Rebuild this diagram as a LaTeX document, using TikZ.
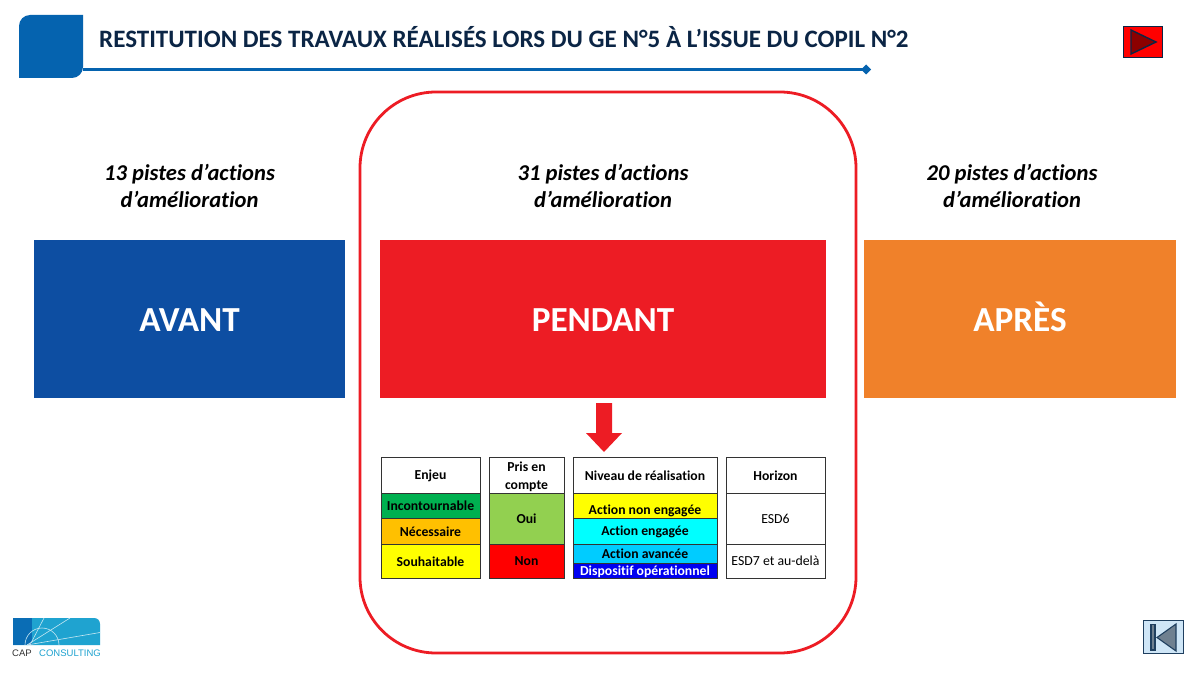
\documentclass[tikz,border=0pt]{standalone}
\usepackage{fontspec}
\setmainfont[Ligatures=NoCommon]{Carlito}
\newfontfamily\logofont{Liberation Sans}
\definecolor{capblue}{HTML}{0563AF}
\definecolor{titleink}{HTML}{0B2545}
\definecolor{avantblue}{HTML}{0D4EA2}
\definecolor{pendantred}{HTML}{ED1C24}
\definecolor{apresorange}{HTML}{F0812A}
\definecolor{gridink}{HTML}{333333}
\definecolor{enjeugreen}{HTML}{00B050}
\definecolor{enjeuamber}{HTML}{FFC000}
\definecolor{ouigreen}{HTML}{92D050}
\definecolor{pureyellow}{HTML}{FFFF00}
\definecolor{purecyan}{HTML}{00FFFF}
\definecolor{purered}{HTML}{FF0000}
\definecolor{skycyan}{HTML}{00CCFF}
\definecolor{deepblue}{HTML}{0000F0}
\definecolor{backfill}{HTML}{CFE6F7}
\definecolor{backink}{HTML}{1F3F5F}
\definecolor{backgrey}{HTML}{6F8090}
\definecolor{logolight}{HTML}{1FA3D0}
\definecolor{logodark}{HTML}{0A6DB5}
\tikzset{
  cell/.style={draw=gridink,line width=0.9pt},
  ctext/.style={inner sep=0pt,align=center,font=\fontsize{13.7}{17.5}\selectfont\bfseries,text=black},
  plain/.style={inner sep=0pt,align=center,font=\fontsize{13.8}{16}\selectfont,text=black},
  heading/.style={inner sep=0pt,align=center,font=\fontsize{22.6}{27}\selectfont\bfseries\itshape,text=black},
  bigword/.style={inner sep=0pt,anchor=base,font=\fontsize{35.2}{40}\selectfont\bfseries,text=white},
}
\begin{document}
\begin{tikzpicture}[x=1pt,y=-1pt]
\useasboundingbox[fill=white] (0,0) rectangle (1200,674);
% header
\fill[capblue] (30,15) -- (83,15) -- (83,67) .. controls (83,73) and (78,78) .. (72,78) -- (19,78) -- (19,26) .. controls (19,20) and (24,15) .. (30,15) -- cycle;
\coordinate (ruleA) at (83,69.5);
\coordinate (ruleB) at (866,69.5);
\draw[capblue,line width=3.6pt] (ruleA) -- (ruleB);
\fill[capblue] (866,64.5) -- (871,69.5) -- (866,74.5) -- (861,69.5) -- cycle;
\node[anchor=west,inner sep=0pt,text=titleink,font=\fontsize{25.05}{28}\selectfont\bfseries] (title) at (99,37) {RESTITUTION DES TRAVAUX RÉALISÉS LORS DU GE N°5 À L’ISSUE DU COPIL N°2};
% next button
\draw[fill=purered,draw=titleink,line width=1.6pt] (1123.5,26.5) rectangle (1162.5,57.5);
\draw[fill=red!55!black,draw=titleink,line width=1.4pt,line join=miter] (1131,30) -- (1156,42) -- (1131,54) -- cycle;
% frame
\draw[pendantred,line width=2.8pt,rounded corners=76pt] (360,92) rectangle (856,653);
% headings
\node[heading] (h1) at (189.5,185.5) {13 pistes d’actions\\d’amélioration};
\node[heading] (h2) at (603,185.5) {31 pistes d’actions\\d’amélioration};
\node[heading] (h3) at (1012,185.5) {20 pistes d’actions\\d’amélioration};
% big boxes
\fill[avantblue] (34,240) rectangle (345,398);
\node[bigword] (avant) at (189.5,331) {AVANT};
\fill[pendantred] (380,240) rectangle (826,398);
\node[bigword] (pendant) at (603,331) {PENDANT};
\fill[apresorange] (864,240) rectangle (1176,398);
\node[bigword] (apres) at (1020,331) {APRÈS};
% arrow
\fill[pendantred] (596,403) -- (612,403) -- (612,433) -- (622,433) -- (604,452) -- (586,433) -- (596,433) -- cycle;
% Enjeu
\draw[cell,fill=white] (381,457.5) rectangle (480,493.5) node[midway,ctext] (e0) {Enjeu};
\draw[cell,fill=enjeugreen] (381,493.5) rectangle (480,518.5) node[midway,ctext] (e1) {Incontournable};
\draw[cell,fill=enjeuamber] (381,518.5) rectangle (480,544.5) node[midway,ctext] (e2) {Nécessaire};
\draw[cell,fill=pureyellow] (381,544.5) rectangle (480,578) node[midway,ctext] (e3) {Souhaitable};
% Pris en compte
\draw[cell,fill=white] (489,457.5) rectangle (564,493.5) node[midway,ctext,yshift=-1.5pt] (p0) {Pris en\\compte};
\draw[cell,fill=ouigreen] (489,493.5) rectangle (564,544.5) node[midway,ctext] (p1) {Oui};
\draw[cell,fill=purered] (489,544.5) rectangle (564,578) node[midway,ctext] (p2) {Non};
% Niveau
\draw[cell,fill=white] (573,457.5) rectangle (717,493.5) node[midway,ctext] (n0) {Niveau de réalisation};
\draw[cell,fill=pureyellow] (573,493.5) rectangle (717,518.5);
\node[ctext] (n1) at (645,510.5) {Action non engagée};
\draw[cell,fill=purecyan] (573,518.5) rectangle (717,544.5) node[midway,ctext,yshift=-0.5pt] (n2) {Action engagée};
\draw[cell,fill=skycyan] (573,544.5) rectangle (717,563) node[midway,ctext] (n3) {Action avancée};
\draw[cell,fill=deepblue] (573,563) rectangle (717,578) node[midway,ctext,text=white,yshift=-1.5pt] (n4) {Dispositif opérationnel};
% Horizon
\draw[cell,fill=white] (726,457.5) rectangle (825,493.5) node[midway,ctext] (o0) {Horizon};
\draw[cell,fill=white] (726,493.5) rectangle (825,544.5) node[midway,plain] (o1) {ESD6};
\draw[cell,fill=white] (726,544.5) rectangle (825,578) node[midway,plain] (o2) {ESD7 et au-delà};
% logo
\fill[logolight] (13,618) -- (94,618) .. controls (97.5,618) and (100,620.5) .. (100,624) -- (100,645) -- (13,645) -- cycle;
\fill[logodark] (13,618) rectangle (32,645);
\begin{scope}
\clip (13,618) rectangle (100,645);
\draw[white!75!logolight,line width=0.6pt] (25,645) .. controls (25,635.6) and (32.6,628) .. (42,628) .. controls (51.4,628) and (59,635.6) .. (59,645);
\draw[white!75!logolight,line width=0.6pt] (27,645) -- (100,632.5);
\draw[white!75!logolight,line width=0.6pt] (27,645) -- (70,618);
\draw[white!75!logolight,line width=0.6pt] (30,645) -- (44,618);
\end{scope}
\node[anchor=west,inner sep=0pt,font=\logofont\fontsize{9.5}{11}\selectfont,text=gridink] (cap) at (12,653) {CAP};
\node[anchor=west,inner sep=0pt,font=\logofont\fontsize{9.5}{11}\selectfont,text=logolight] (consulting) at (39,653) {CONSULTING};
% back button
\draw[fill=backfill,draw=backink,line width=1.4pt] (1143.5,620.5) rectangle (1183.5,653.5);
\draw[fill=backgrey,draw=backink,line width=1.1pt] (1151,624.5) rectangle (1155,650);
\draw[fill=backgrey,draw=backink,line width=1.1pt,line join=miter] (1176,624) -- (1157,637.5) -- (1176,651) -- cycle;
\end{tikzpicture}
\end{document}
